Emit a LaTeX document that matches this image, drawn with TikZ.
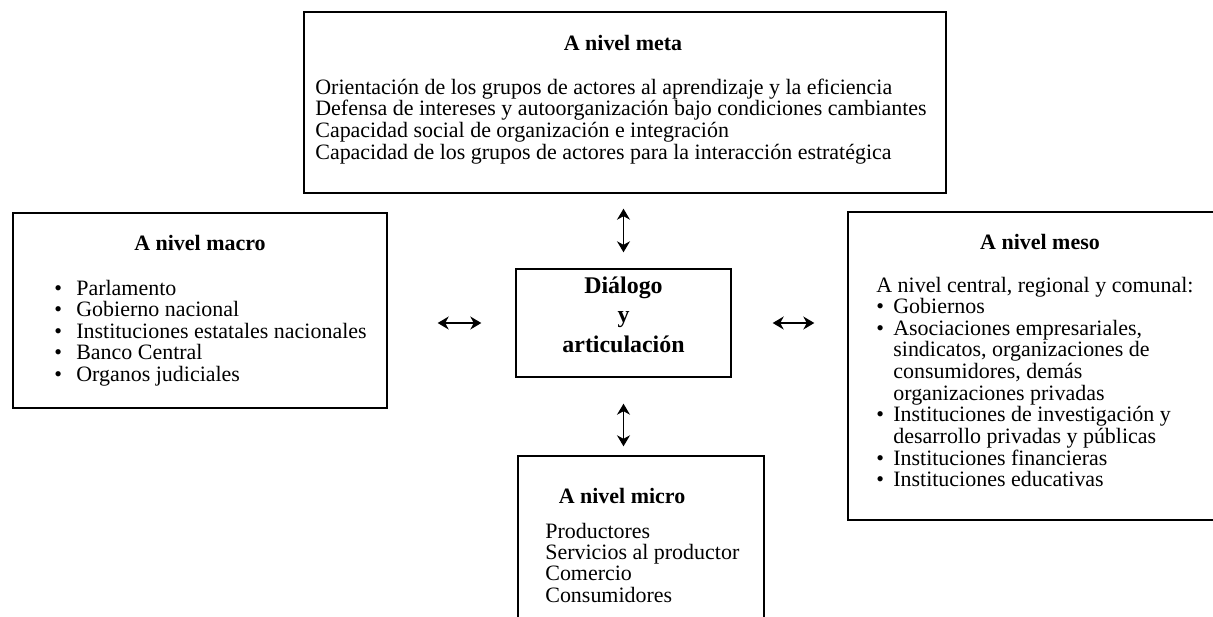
\documentclass[tikz,border=0pt]{standalone}
\usepackage{fontspec}
\setmainfont{Liberation Serif}
\usetikzlibrary{arrows.meta,fit}

\newcommand{\mbul}{\makebox[0.44cm][l]{\textbullet}}
\newcommand{\sbul}{\makebox[0.34cm][l]{\textbullet}}
\newcommand{\sind}{\hspace*{0.34cm}}

\tikzset{
  lvlbox/.style={draw, line width=0.8pt, inner sep=0pt},
  ttl/.style={anchor=base, inner sep=0pt, font=\fontsize{12.5}{12.1}\selectfont\bfseries},
  lst/.style={anchor=base west, inner sep=0pt, font=\fontsize{12.5}{12.1}\selectfont},
  dbl/.style={{Stealth[length=0.22cm,width=0.26cm,inset=0.07cm]}-{Stealth[length=0.22cm,width=0.26cm,inset=0.07cm]}, line width=0.8pt},
}

\begin{document}
\begin{tikzpicture}[x=0.02cm, y=-0.02cm]
  \useasboundingbox (0,0) rectangle (1213,616);

  \node[lvlbox, fit={(304,12) (946,193)}] (meta) {};
  \node[lvlbox, fit={(13,213) (387,408)}] (macro) {};
  \node[lvlbox, fit={(848,212) (1232,520)}] (meso) {};
  \node[lvlbox, fit={(518,456) (764,640)}] (micro) {};
  \node[lvlbox, fit={(516,269) (731,377)}, align=center,
        font=\fontsize{13.6}{16.8}\selectfont\bfseries] (dlg) {Diálogo\\y\\articulación};

  \node[ttl] (metat) at (623,50) {A nivel meta};
  \node[lst] (metal) at (315,94) {\begin{tabular}[t]{@{}l@{}}
    Orientación de los grupos de actores al aprendizaje y la eficiencia\\
    Defensa de intereses y autoorganización bajo condiciones cambiantes\\
    Capacidad social de organización e integración\\
    Capacidad de los grupos de actores para la interacción estratégica
  \end{tabular}};

  \node[ttl] (macrot) at (200,250) {A nivel macro};
  \node[lst] (macrol) at (54,295) {\begin{tabular}[t]{@{}l@{}}
    \mbul Parlamento\\
    \mbul Gobierno nacional\\
    \mbul Instituciones estatales nacionales\\
    \mbul Banco Central\\
    \mbul Organos judiciales
  \end{tabular}};

  \node[ttl] (mesot) at (1040,249) {A nivel meso};
  \node[lst] (mesol) at (876,292) {\begin{tabular}[t]{@{}l@{}}
    A nivel central, regional y comunal:\\
    \sbul Gobiernos\\
    \sbul Asociaciones empresariales,\\
    \sind sindicatos, organizaciones de\\
    \sind consumidores, demás\\
    \sind organizaciones privadas\\
    \sbul Instituciones de investigación y\\
    \sind desarrollo privadas y públicas\\
    \sbul Instituciones financieras\\
    \sbul Instituciones educativas
  \end{tabular}};

  \node[ttl] (microt) at (622,503) {A nivel micro};
  \node[lst] (microl) at (545,538) {\begin{tabular}[t]{@{}l@{}}
    Productores\\
    Servicios al productor\\
    Comercio\\
    Consumidores
  \end{tabular}};

  \begin{scope}[dbl]
    \draw[shorten <=0.3cm, shorten >=0.32cm] (dlg.north |- meta.south) to (dlg.north);
    \draw[shorten <=0.52cm, shorten >=0.18cm] (dlg.south) to (dlg.south |- micro.north);
    \draw[shorten <=1.0cm, shorten >=0.68cm] (macro.east |- dlg.west) to (dlg.west);
    \draw[shorten <=0.82cm, shorten >=0.66cm] (dlg.east) to (dlg.east -| meso.west);
  \end{scope}
\end{tikzpicture}
\end{document}
